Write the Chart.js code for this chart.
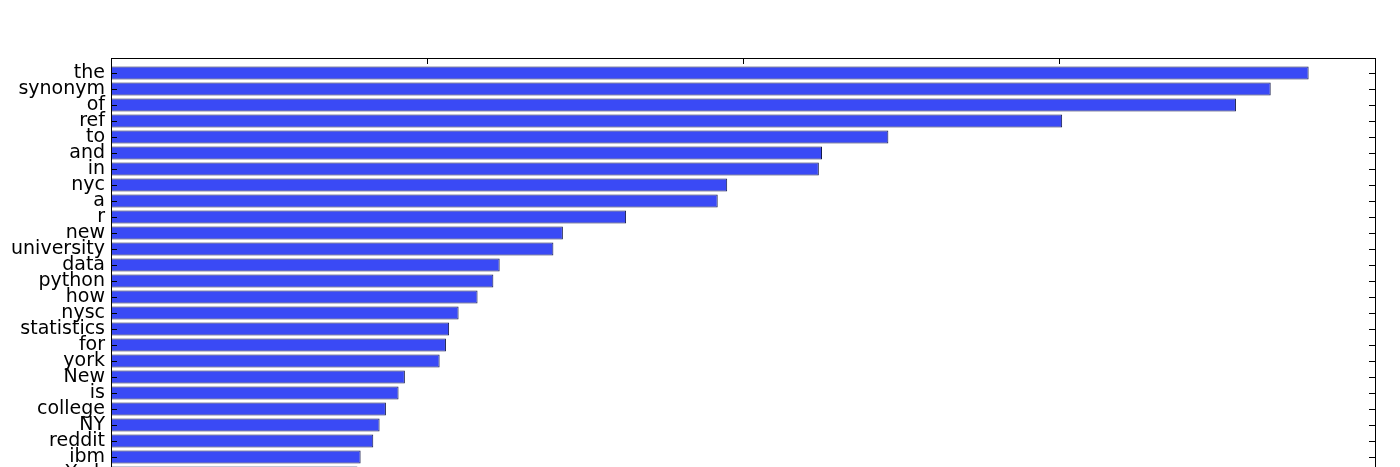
<!DOCTYPE html>
<html>
<head>
<meta charset="utf-8">
<script src="https://cdn.jsdelivr.net/npm/chart.js@4"></script>
<style>
  html, body { margin: 0; padding: 0; background: #fff; overflow: hidden; }
  #wrap { width: 1400px; height: 500px; }
</style>
</head>
<body>
<div id="wrap"><canvas id="chart"></canvas></div>
<script>
// words and their (relative) frequency
const words = ["the", "synonym", "of", "ref", "to", "and", "in", "nyc", "a", "r", "new",
  "university", "data", "python", "how", "nysc", "statistics", "for", "york", "New",
  "is", "college", "NY", "reddit", "ibm", "York"];
const counts = [3.79, 3.67, 3.56, 3.01, 2.46, 2.25, 2.24, 1.95, 1.92, 1.63, 1.43,
  1.40, 1.23, 1.21, 1.16, 1.10, 1.07, 1.06, 1.04, 0.93,
  0.91, 0.87, 0.85, 0.83, 0.79, 0.78];
const xTicks = [1, 2, 3];

// frame + inward tick marks, matplotlib style
const framePlugin = {
  id: "frame",
  afterDraw(chart) {
    const { ctx, chartArea: a, scales } = chart;
    const top = a.top - 7;
    ctx.save();
    ctx.strokeStyle = "#000";
    ctx.lineWidth = 1;
    ctx.strokeRect(a.left + 0.5, top + 0.5, a.right - a.left, a.bottom - top);
    ctx.beginPath();
    xTicks.forEach(v => {
      const x = Math.round(scales.x.getPixelForValue(v)) + 0.5;
      ctx.moveTo(x, top); ctx.lineTo(x, top + 6);
    });
    words.forEach((w, i) => {
      const y = Math.round(scales.y.getPixelForValue(i)) + 0.5;
      ctx.moveTo(a.left, y); ctx.lineTo(a.left + 6, y);
      ctx.moveTo(a.right, y); ctx.lineTo(a.right - 6, y);
    });
    ctx.stroke();
    ctx.restore();
  }
};

new Chart(document.getElementById("chart"), {
  type: "bar",
  data: {
    labels: words,
    datasets: [{
      data: counts,
      backgroundColor: "#3a4af5",
      borderColor: "#141a4a",
      borderWidth: 1,
      borderSkipped: false,
      barPercentage: 0.8,
      categoryPercentage: 1
    }]
  },
  options: {
    indexAxis: "y",
    responsive: true,
    maintainAspectRatio: false,
    animation: false,
    layout: { padding: { top: 65, right: 25, bottom: 19, left: 0 } },
    plugins: { legend: { display: false }, tooltip: { enabled: false } },
    scales: {
      x: { display: false, min: 0, max: 4 },
      y: {
        grid: { display: false, drawTicks: false },
        border: { display: false },
        ticks: { color: "#000", font: { family: "DejaVu Sans", size: 19, lineHeight: 1 }, padding: 6, autoSkip: false },
        afterFit(scale) { scale.width = 111; }
      }
    }
  },
  plugins: [framePlugin]
});
</script>
</body>
</html>
